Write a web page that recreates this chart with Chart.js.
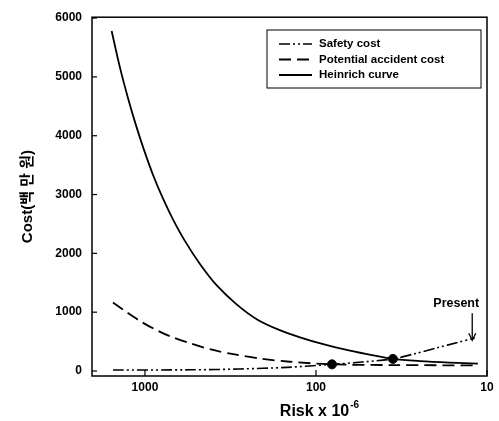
<!DOCTYPE html>
<html>
<head>
<meta charset="utf-8">
<script src="https://cdn.jsdelivr.net/npm/chart.js@4"></script>
<style>
  html, body { margin: 0; padding: 0; background: #fff; }
  #wrap { width: 499px; height: 421px; }
</style>
</head>
<body>
<div id="wrap"><canvas id="costChart" width="499" height="421"></canvas></div>
<script>
// tick values
const xTicks = [10, 100, 1000];
const yTicks = [0, 1000, 2000, 3000, 4000, 5000, 6000];

// series (risk x 10^-6, cost)
const safetyRisk = [1538, 545, 278, 148, 80.6, 54, 35.5, 26.3, 19.5, 14.9, 11.8];
const safetyCost = [17, 20, 34, 62, 113, 152, 206, 295, 396, 484, 560];

const accidentRisk = [1538, 1309, 1070, 874, 714, 545, 406, 298, 213, 142, 80.6, 35.5, 11.3];
const accidentCost = [1163, 1020, 851, 708, 590, 472, 362, 281, 211, 157, 113, 101, 95];

const heinrichRisk = [1566, 1400, 1257, 1129, 1013, 898, 785, 686, 583, 477, 379, 290, 221, 167, 124, 88.5, 63.2, 47.1, 35.5, 24.7, 16.5, 11.3];
const heinrichCost = [5781, 5158, 4643, 4180, 3759, 3337, 2933, 2579, 2208, 1820, 1450, 1129, 877, 708, 573, 447, 346, 270, 206, 169, 143, 126];

// highlighted points
const markRisk = [80.6, 35.5];
const markCost = [113, 206];

// "Present" arrow target
const presentRisk = 12.2;
const presentCost = 522;
const presentFrom = 980;

const FONT = "'Liberation Sans', Arial, 'Noto Sans CJK KR', sans-serif";
const toPoints = (xs, ys) => xs.map((x, i) => ({ x, y: ys[i] }));

const framePlugin = {
  id: 'frame',
  afterDraw(chart) {
    const { ctx, chartArea: a, scales: { x, y } } = chart;
    ctx.save();
    ctx.strokeStyle = '#000';
    ctx.fillStyle = '#000';

    // plot box
    ctx.lineWidth = 1.5;
    ctx.strokeRect(a.left, a.top, a.right - a.left, a.bottom - a.top);

    // inward tick marks
    ctx.lineWidth = 1.2;
    yTicks.forEach(v => {
      const py = y.getPixelForValue(v);
      ctx.beginPath(); ctx.moveTo(a.left, py); ctx.lineTo(a.left + 5, py); ctx.stroke();
    });
    xTicks.forEach(v => {
      const px = x.getPixelForValue(v);
      ctx.beginPath(); ctx.moveTo(px, a.bottom); ctx.lineTo(px, a.bottom - 6); ctx.stroke();
    });

    // legend
    const lx = 267, ly = 30, lw = 214, lh = 58;
    ctx.fillStyle = '#fff';
    ctx.fillRect(lx, ly, lw, lh);
    ctx.lineWidth = 1;
    ctx.strokeRect(lx, ly, lw, lh);
    ctx.font = 'bold 11.5px ' + FONT;
    ctx.textBaseline = 'middle';
    chart.data.datasets.slice(0, 3).forEach((ds, i) => {
      const yy = ly + 14 + i * 15.5;
      ctx.save();
      ctx.lineWidth = ds.borderWidth;
      ctx.setLineDash(ds.borderDash || []);
      ctx.beginPath(); ctx.moveTo(lx + 12, yy); ctx.lineTo(lx + 45, yy); ctx.stroke();
      ctx.restore();
      ctx.fillStyle = '#000';
      ctx.fillText(ds.label, lx + 52, yy);
    });

    // Present annotation
    const ax = x.getPixelForValue(presentRisk);
    const ay0 = y.getPixelForValue(presentFrom);
    const ay1 = y.getPixelForValue(presentCost);
    ctx.lineWidth = 1.3;
    ctx.beginPath(); ctx.moveTo(ax, ay0); ctx.lineTo(ax, ay1 - 1); ctx.stroke();
    ctx.beginPath(); ctx.moveTo(ax - 3.5, ay1 - 7); ctx.lineTo(ax, ay1); ctx.lineTo(ax + 3.5, ay1 - 7); ctx.stroke();
    ctx.font = 'bold 12.5px ' + FONT;
    ctx.textAlign = 'center';
    ctx.textBaseline = 'alphabetic';
    ctx.fillText('Present', ax - 16, ay0 - 6);

    // x axis title with superscript
    ctx.font = 'bold 16px ' + FONT;
    const main = 'Risk x 10';
    const mw = ctx.measureText(main).width;
    ctx.font = 'bold 10px ' + FONT;
    const sw = ctx.measureText('-6').width;
    const sx = 319 - (mw + sw) / 2;
    ctx.textAlign = 'left';
    ctx.font = 'bold 16px ' + FONT;
    ctx.fillText(main, sx, 416);
    ctx.font = 'bold 10px ' + FONT;
    ctx.fillText('-6', sx + mw + 1, 408);
    ctx.restore();
  }
};

const line = (label, xs, ys, dash, width) => ({
  label,
  data: toPoints(xs, ys),
  borderColor: '#000',
  backgroundColor: '#000',
  borderWidth: width,
  borderDash: dash,
  pointRadius: 0,
  fill: false,
  tension: 0.3
});

const ctx = document.getElementById('costChart').getContext('2d');
new Chart(ctx, {
  type: 'line',
  data: {
    datasets: [
      line('Safety cost', safetyRisk, safetyCost, [11, 3, 2, 3, 2, 3], 1.6),
      line('Potential accident cost', accidentRisk, accidentCost, [12, 6], 1.8),
      line('Heinrich curve', heinrichRisk, heinrichCost, [], 1.8),
      {
        label: 'points',
        data: toPoints(markRisk, markCost),
        showLine: false,
        pointRadius: 4.5,
        pointBackgroundColor: '#000',
        pointBorderColor: '#000'
      }
    ]
  },
  options: {
    responsive: false,
    animation: false,
    layout: { padding: { top: 14, right: 12, left: 0, bottom: 0 } },
    plugins: { legend: { display: false }, tooltip: { enabled: false } },
    scales: {
      x: {
        type: 'logarithmic',
        reverse: true,
        min: 10,
        max: 2040,
        afterBuildTicks: s => { s.ticks = xTicks.map(v => ({ value: v })); },
        afterFit: s => { s.height = 45; },
        grid: { display: false, drawTicks: false },
        border: { display: false },
        ticks: {
          autoSkip: false,
          maxRotation: 0,
          padding: 4,
          color: '#000',
          font: { family: FONT, size: 12, weight: 'bold' },
          callback: v => String(v)
        }
      },
      y: {
        min: -85,
        max: 6015,
        afterBuildTicks: s => { s.ticks = yTicks.map(v => ({ value: v })); },
        afterFit: s => { s.width = 92; },
        grid: { display: false, drawTicks: false },
        border: { display: false },
        ticks: {
          padding: 10,
          color: '#000',
          font: { family: FONT, size: 12, weight: 'bold' },
          callback: v => String(v)
        },
        title: {
          display: true,
          text: 'Cost(백 만 원)',
          color: '#000',
          padding: { top: 19, bottom: 0 },
          font: { family: FONT, size: 15, weight: 'bold' }
        }
      }
    }
  },
  plugins: [framePlugin]
});
</script>
</body>
</html>
